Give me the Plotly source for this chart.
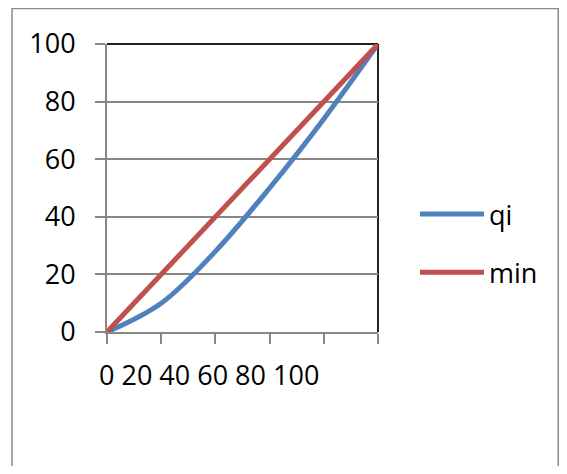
import plotly.graph_objects as go

categories = ["0", "20", "40", "60", "80", "100"]
qi_values = [0, 10, 28, 50, 74, 100]
min_values = [0, 20, 40, 60, 80, 100]
y_ticks = [0, 20, 40, 60, 80, 100]

FONT = "Open Sans"
FS = 27
GRAY = "#878787"
BLUE = "#4F81BD"
RED = "#C0504D"

OFF = 8  # page body margin
W, H = 567 - 2 * OFF, 474 - 2 * OFF   # avoid page scrollbars
L, T = 107 - OFF, 44 - OFF
pw, ph = 271, 288
R, B = W - L - pw, H - T - ph

def px_x(p):
    return (p - OFF - L) / pw

def px_y(p):
    return (T + ph - (p - OFF)) / ph

xs = list(range(len(categories)))

fig = go.Figure()
fig.add_trace(go.Scatter(x=xs, y=qi_values, name="qi", mode="lines",
                         line=dict(color=BLUE, width=5, shape="spline", smoothing=1.0),
                         legendgroup="a"))
fig.add_trace(go.Scatter(x=xs, y=min_values, name="min", mode="lines",
                         line=dict(color=RED, width=5), legendgroup="b"))

right_edge = OFF + W - 0.75

fig.update_layout(
    width=W, height=H,
    margin=dict(l=L, r=R, t=T, b=B, pad=0),
    paper_bgcolor="white", plot_bgcolor="white",
    font=dict(family=FONT, size=FS, color="black"),
    showlegend=True,
    legend=dict(x=px_x(415), y=px_y(190), xanchor="left", yanchor="top",
                traceorder="grouped", tracegroupgap=20, itemwidth=64,
                font=dict(family=FONT, size=FS, color="black"),
                bgcolor="rgba(0,0,0,0)"),
    xaxis=dict(range=[0, len(categories) - 1], tickvals=xs, showticklabels=False,
               ticks="outside", ticklen=10, tickwidth=2, tickcolor=GRAY,
               showline=True, linecolor=GRAY, linewidth=2, showgrid=False,
               zeroline=False, fixedrange=True),
    yaxis=dict(range=[0, 100], tickvals=y_ticks, ticktext=[str(v) for v in y_ticks],
               ticks="outside", ticklen=10, tickwidth=2, tickcolor=GRAY,
               ticklabelstandoff=14,
               showline=True, linecolor=GRAY, linewidth=2,
               showgrid=True, gridcolor=GRAY, gridwidth=1.5,
               zeroline=False, fixedrange=True),
    shapes=[
        dict(type="line", xref="paper", yref="paper", x0=0, x1=1, y0=1, y1=1,
             line=dict(color="#222222", width=2), layer="below"),
        dict(type="line", xref="paper", yref="paper", x0=1, x1=1, y0=0, y1=1,
             line=dict(color="#222222", width=2), layer="below"),
        dict(type="rect", xref="paper", yref="paper",
             x0=px_x(12), x1=px_x(right_edge), y0=px_y(8.5), y1=px_y(500),
             line=dict(color="#8c8c8c", width=1.5), layer="below"),
    ],
    annotations=[
        dict(text=" ".join(categories), xref="paper", yref="paper",
             x=px_x(97), y=px_y(374), xanchor="left", yanchor="middle",
             showarrow=False, font=dict(family=FONT, size=FS, color="black")),
    ],
)

fig.write_html("out.html")
